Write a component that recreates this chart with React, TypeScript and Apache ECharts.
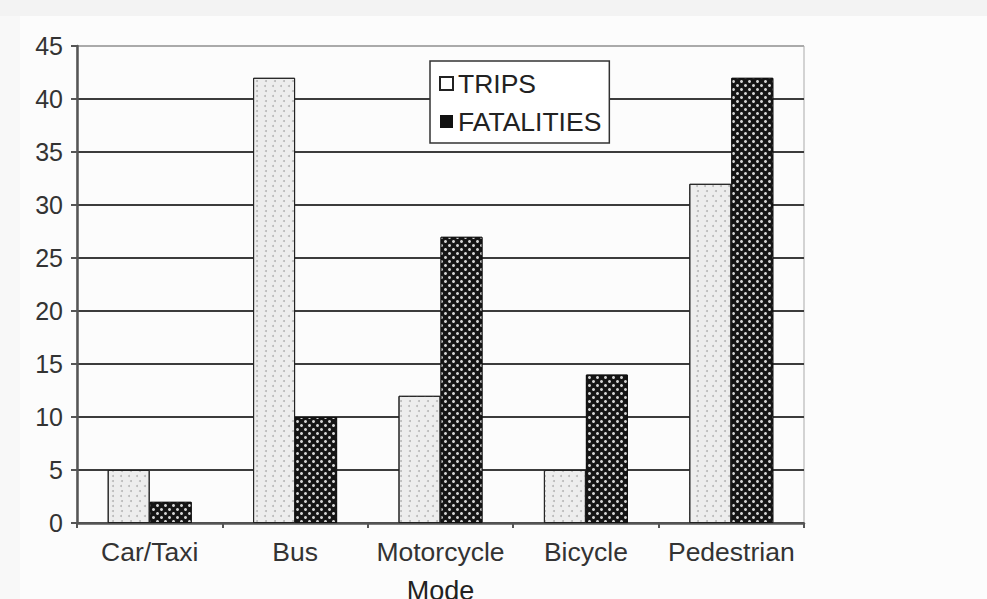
import React, { useEffect, useRef } from "react";
import * as echarts from "echarts";

const categories = ["Car/Taxi", "Bus", "Motorcycle", "Bicycle", "Pedestrian"];
const trips = [5, 42, 12, 5, 32];
const fatalities = [2, 10, 27, 14, 42];
const yTicks = [0, 5, 10, 15, 20, 25, 30, 35, 40, 45];

const FONT = "'Liberation Sans', Arial, Helvetica, sans-serif";

export default function App() {
  const ref = useRef<HTMLDivElement>(null);
  useEffect(() => {
    if (!ref.current) return;
    const chart = echarts.init(ref.current, undefined, { renderer: "svg" });
    const gridColors = yTicks.map((v, i) => (i === yTicks.length - 1 ? "#aaaaaa" : "#3c3c3c"));
    chart.setOption({
      animation: false,
      backgroundColor: "#fcfcfc",
      graphic: [
        { type: "rect", left: 0, top: 0, shape: { width: 987, height: 16 }, style: { fill: "#f3f3f3" }, z: -10 },
        { type: "rect", left: 0, top: 16, shape: { width: 20, height: 583 }, style: { fill: "#f8f8f8" }, z: -10 },
      ],
      grid: {
        left: 77,
        right: 183,
        top: 46,
        bottom: 76,
        containLabel: false,
        outerBoundsMode: "none",
        show: true,
        backgroundColor: "transparent",
        borderColor: "#aaaaaa",
        borderWidth: 1,
      },
      legend: {
        orient: "vertical",
        left: 430,
        top: 61,
        padding: [9, 8, 8, 9],
        itemGap: 11,
        itemWidth: 13,
        itemHeight: 13,
        backgroundColor: "#ffffff",
        borderColor: "#333333",
        borderWidth: 1.5,
        borderRadius: 0,
        textStyle: { fontFamily: FONT, fontSize: 26.5, color: "#222222", padding: [0, 0, 0, 0] },
        data: [
          { name: "TRIPS", icon: "rect", itemStyle: { color: "#ffffff", borderColor: "#222222", borderWidth: 2, decal: "none" } },
          { name: "FATALITIES", icon: "rect", itemStyle: { color: "#111111", borderColor: "#111111", borderWidth: 0, decal: "none" } },
        ],
      },
      xAxis: {
        type: "category",
        data: categories,
        name: "Mode",
        nameLocation: "middle",
        nameGap: 54,
        nameTextStyle: { fontFamily: FONT, fontSize: 27, color: "#222222" },
        axisLine: { lineStyle: { color: "#555555", width: 2.5 } },
        axisTick: { show: true, length: 5, lineStyle: { color: "#555555", width: 2 } },
        axisLabel: { fontFamily: FONT, fontSize: 26.5, color: "#333333", margin: 15, interval: 0 },
        splitLine: { show: false },
      },
      yAxis: {
        type: "value",
        min: 0,
        max: 45,
        interval: 5,
        axisLine: { show: true, lineStyle: { color: "#555555", width: 2.5 } },
        axisTick: { show: true, length: 6, lineStyle: { color: "#555555", width: 2 } },
        axisLabel: { fontFamily: FONT, fontSize: 25, color: "#333333", margin: 14 },
        splitLine: { show: true, lineStyle: { color: gridColors, width: 2 } },
      },
      series: [
        {
          name: "TRIPS",
          type: "bar",
          data: trips,
          barWidth: 42,
          barGap: "0%",
          itemStyle: {
            color: "#ededed",
            borderColor: "#222222",
            borderWidth: 1,
            decal: {
              symbol: "circle",
              symbolSize: 1,
              color: "#b8b8b8",
              dashArrayX: [[1.5, 6], [0, 3.75, 1.5, 2.25]],
              dashArrayY: [1.5, 2.5],
            },
          },
        },
        {
          name: "FATALITIES",
          type: "bar",
          data: fatalities,
          barWidth: 42,
          barGap: "0%",
          itemStyle: {
            color: "#151515",
            borderColor: "#111111",
            borderWidth: 1,
            decal: {
              symbol: "circle",
              symbolSize: 1,
              color: "#d4d4d4",
              dashArrayX: [[2.8, 4.2], [0, 3.5, 2.8, 0.7]],
              dashArrayY: [2.8, 0.7],
            },
          },
        },
      ],
    });
    return () => chart.dispose();
  }, []);
  return (
    <div
      ref={ref}
      style={{ position: "absolute", left: 0, top: 0, width: 987, height: 599 }}
    />
  );
}
